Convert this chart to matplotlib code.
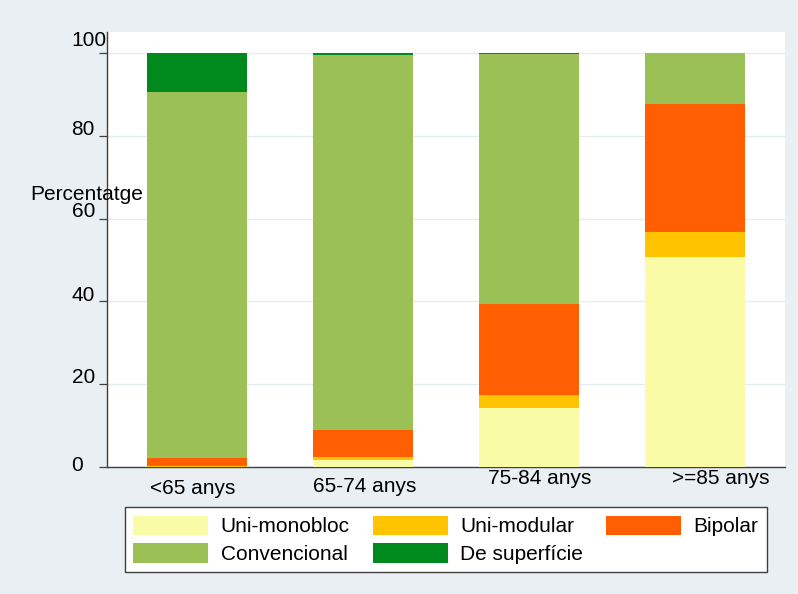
import matplotlib
matplotlib.use("Agg")
import matplotlib.pyplot as plt
import matplotlib.transforms as mtransforms
import numpy as np

plt.rcParams['font.family'] = ['Liberation Sans', 'DejaVu Sans']

categories = ["<65 anys", "65-74 anys", "75-84 anys", ">=85 anys"]
series_names = ["Uni-monobloc", "Uni-modular", "Bipolar", "Convencional", "De superfície"]
uni_monobloc = [0.0, 1.8, 14.3, 50.7]
uni_modular = [0.3, 0.5, 3.1, 6.0]
bipolar = [1.9, 6.7, 22.0, 31.0]
convencional = [88.4, 90.5, 60.3, 12.3]
de_superficie = [9.4, 0.5, 0.3, 0.0]
yticks = [0, 20, 40, 60, 80, 100]
ylabel = "Percentatge"

colors = ["#f9fba6", "#ffc300", "#ff5f00", "#9bc156", "#008a1e"]
bg = "#e9eff3"
FS = 15

W, H = 798, 594
fig = plt.figure(figsize=(W / 100, H / 100), dpi=100, facecolor=bg)
ax = fig.add_axes([107 / W, 1 - 467 / H, (785 - 107) / W, (467 - 32.3) / H])
ax.set_facecolor("white")

x = np.arange(len(categories))
bottom = np.zeros(len(categories))
series = [uni_monobloc, uni_modular, bipolar, convencional, de_superficie]
handles = []
for name, vals, c in zip(series_names, series, colors):
    b = ax.bar(x, vals, width=0.602, bottom=bottom, color=c, label=name,
               linewidth=0, zorder=3)
    handles.append(b)
    bottom += np.array(vals)

ax.set_xlim(-0.542, 3.542)
ax.set_ylim(0, 105)

# grid
ax.set_yticks(yticks)
ax.yaxis.grid(True, color="#e6edf1", linewidth=1.0, zorder=0)
ax.set_axisbelow(True)

for s in ["top", "right"]:
    ax.spines[s].set_visible(False)
for s in ["left", "bottom"]:
    ax.spines[s].set_color("#404040")
    ax.spines[s].set_linewidth(1.0)

ax.tick_params(axis="y", direction="out", length=6, width=0.9, color="#404040",
               labelsize=FS, pad=19.5)
ax.tick_params(axis="x", length=0, labelbottom=False)

# y tick labels: left aligned, baseline near tick
yoffs_px = [-4, 1, 0, 2, 1, 7]
for lab, dy in zip(ax.get_yticklabels(), yoffs_px):
    lab.set_horizontalalignment("left")
    lab.set_verticalalignment("baseline")
    lab.set_transform(lab.get_transform() +
                      mtransforms.ScaledTranslation(0, dy / 100, fig.dpi_scale_trans))

# x category labels (staggered as in reference)
xoffs_px = [-4, 2, 11, 26]
ycent_px = [488, 486, 478, 478]
for xi, lab, dx, yc in zip(x, categories, xoffs_px, ycent_px):
    tr = mtransforms.blended_transform_factory(ax.transData, fig.transFigure)
    tr = tr + mtransforms.ScaledTranslation(dx / 100, 0, fig.dpi_scale_trans)
    ax.text(xi, 1 - yc / H, lab, transform=tr, ha="center", va="center",
            fontsize=FS, color="black", clip_on=False)

fig.text(30 / W, 1 - 200 / H, ylabel, ha="left", va="baseline", fontsize=FS,
         color="black", zorder=10)

# legend laid out row-major (matplotlib fills column-major)
order = [0, 3, 1, 4, 2]
leg = fig.legend([handles[i] for i in order], [series_names[i] for i in order],
                 ncol=3, loc="upper left",
                 bbox_to_anchor=(125 / W, 1 - 507.3 / H),
                 fontsize=FS, frameon=True, fancybox=False,
                 handlelength=3.6, handleheight=1.05, handletextpad=0.6,
                 columnspacing=1.1, labelspacing=0.33, borderpad=0.4,
                 borderaxespad=0)
leg.get_frame().set_edgecolor("#404040")
leg.get_frame().set_linewidth(1.0)
leg.get_frame().set_facecolor("white")
leg.get_frame().set_alpha(1)

fig.savefig("out.png", dpi=100, facecolor=bg)
